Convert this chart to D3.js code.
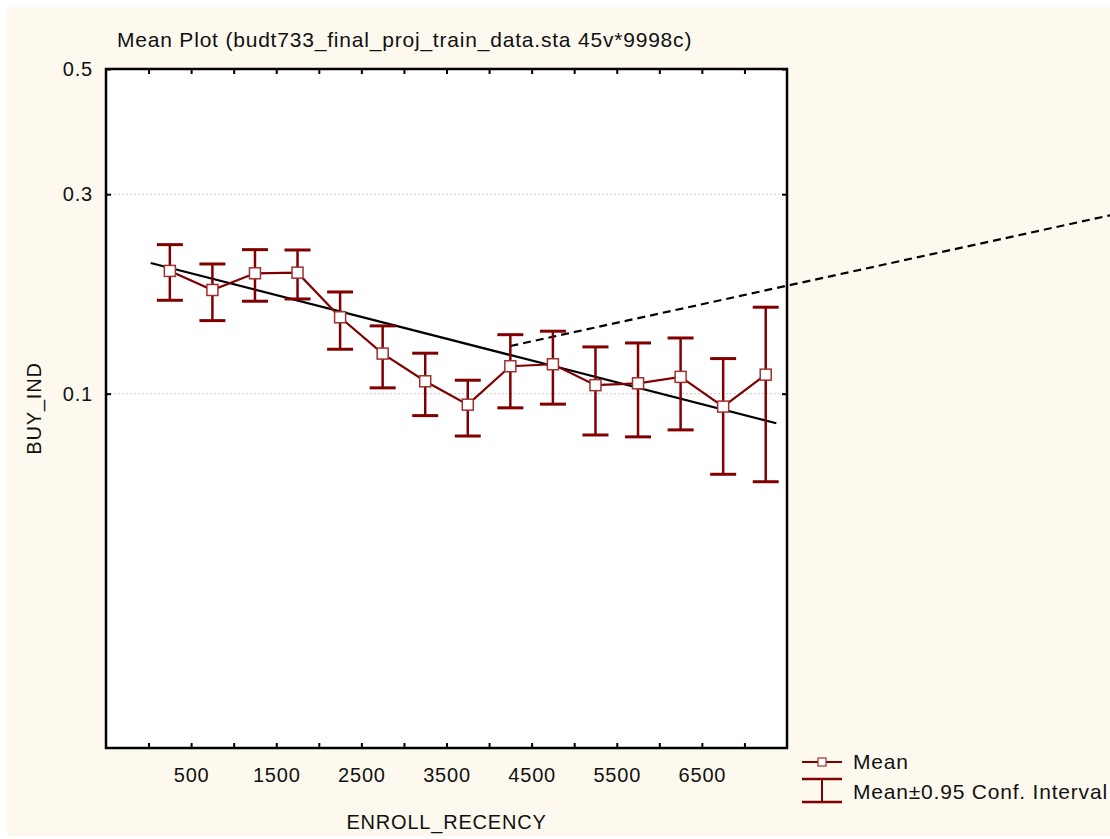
<!DOCTYPE html>
<html>
<head>
<meta charset="utf-8">
<script src="https://cdn.jsdelivr.net/npm/d3@7"></script>
<style>
  html, body { margin: 0; padding: 0; background: #fff; }
  svg { display: block; font-family: "Liberation Sans", Arial, sans-serif; }
  text { fill: #111; letter-spacing: 0.8px; }
</style>
</head>
<body>
<svg width="1110" height="839"></svg>
<script>
// ENROLL_RECENCY group midpoints and BUY_IND means with 0.95 CI
var groups = [250, 750, 1250, 1750, 2250, 2750, 3250, 3750, 4250, 4750, 5250, 5750, 6250, 6750, 7250];
var means  = [0.2032, 0.1831, 0.2006, 0.2013, 0.1571, 0.1272, 0.1078, 0.0935, 0.1180, 0.1194, 0.1053, 0.1065, 0.1107, 0.0924, 0.1122];
var ciHigh = [0.2335, 0.2109, 0.2275, 0.2271, 0.1811, 0.1495, 0.1275, 0.1085, 0.1421, 0.1450, 0.1323, 0.1354, 0.1394, 0.1235, 0.1663];
var ciLow  = [0.1729, 0.1541, 0.1720, 0.1742, 0.1305, 0.1036, 0.0874, 0.0770, 0.0917, 0.0938, 0.0775, 0.0766, 0.0800, 0.0605, 0.0577];

// fitted line and its dashed continuation
var fitX = [25, 7375];
var fitY = [0.212, 0.0834];
var dashX = [4250, 11300];
var dashY = [0.133, 0.271];

var xTicks = d3.range(0, 7001, 500);
var xLabels = [500, 1500, 2500, 3500, 4500, 5500, 6500];
var yTicks = [0.1, 0.3, 0.5];

var title = "Mean Plot (budt733_final_proj_train_data.sta 45v*9998c)";
var xTitle = "ENROLL_RECENCY";
var yTitle = "BUY_IND";
var legendLabels = ["Mean", "Mean\u00b10.95 Conf. Interval"];

var red = "#800000";

var svg = d3.select("svg"),
    width = +svg.attr("width"),
    height = +svg.attr("height");

var plot = {left: 106, right: 787, top: 69, bottom: 748};

function logit(p) { return Math.log(p / (1 - p)); }
function unlogit(v) { return 1 / (1 + Math.exp(-v)); }

var x = d3.scaleLinear().domain([-500, 7500]).range([plot.left, plot.right]);
var yl = d3.scaleLinear().domain([logit(0.01), logit(0.5)]).range([plot.bottom, plot.top]);
var y = function (p) { return yl(logit(p)); };

// background panel
svg.append("rect").attr("x", 7).attr("y", 7)
    .attr("width", width - 7).attr("height", 836 - 7)
    .attr("fill", "#fdf9ef");
svg.append("rect").attr("x", plot.left).attr("y", plot.top)
    .attr("width", plot.right - plot.left).attr("height", plot.bottom - plot.top)
    .attr("fill", "#fff");

// grid
svg.append("g").selectAll("line")
    .data([0.1, 0.3])
    .enter().append("line")
    .attr("x1", plot.left).attr("x2", plot.right)
    .attr("y1", function (d) { return y(d); })
    .attr("y2", function (d) { return y(d); })
    .attr("stroke", "#c8c8c8")
    .attr("stroke-dasharray", "2,2");

// axes (ticks pointing inward)
var yTickVals = yTicks.map(logit);

svg.append("g")
    .attr("transform", "translate(0," + plot.bottom + ")")
    .call(d3.axisBottom(x).tickValues(xTicks).tickSizeInner(-5).tickSizeOuter(0).tickPadding(20)
        .tickFormat(function (d) { return xLabels.indexOf(d) >= 0 ? d : ""; }))
    .call(styleAxis);

svg.append("g")
    .attr("transform", "translate(0," + plot.top + ")")
    .call(d3.axisTop(x).tickValues(xTicks).tickSizeInner(-5).tickSizeOuter(0).tickFormat(""))
    .call(styleAxis);

svg.append("g")
    .attr("transform", "translate(" + plot.left + ",0)")
    .call(d3.axisLeft(yl).tickValues(yTickVals).tickSizeInner(-5).tickSizeOuter(0).tickPadding(13)
        .tickFormat(function (v) { return d3.format(".1f")(unlogit(v)); }))
    .call(styleAxis);

svg.append("g")
    .attr("transform", "translate(" + plot.right + ",0)")
    .call(d3.axisRight(yl).tickValues(yTickVals).tickSizeInner(-5).tickSizeOuter(0).tickFormat(""))
    .call(styleAxis);

function styleAxis(g) {
    g.select(".domain").remove();
    g.selectAll(".tick line").attr("stroke", "#000").attr("stroke-width", 2);
    g.selectAll(".tick text")
        .attr("font-size", "20px")
        .attr("font-family", "Liberation Sans, Arial, sans-serif")
        .attr("fill", "#111");
}

// frame
svg.append("rect").attr("x", plot.left).attr("y", plot.top)
    .attr("width", plot.right - plot.left).attr("height", plot.bottom - plot.top)
    .attr("fill", "none").attr("stroke", "#000").attr("stroke-width", 2.5);

// titles
svg.append("text").attr("x", 117).attr("y", 47)
    .attr("font-size", "21px").text(title);
svg.append("text").attr("x", (plot.left + plot.right) / 2).attr("y", 829)
    .attr("text-anchor", "middle").attr("font-size", "20px").text(xTitle);
svg.append("text")
    .attr("transform", "translate(41," + (plot.top + plot.bottom) / 2 + ") rotate(-90)")
    .attr("text-anchor", "middle").attr("font-size", "20px").text(yTitle);

// fitted line
svg.append("line")
    .attr("x1", x(fitX[0])).attr("y1", y(fitY[0]))
    .attr("x2", x(fitX[1])).attr("y2", y(fitY[1]))
    .attr("stroke", "#000").attr("stroke-width", 2.2);

svg.append("line")
    .attr("x1", x(dashX[0])).attr("y1", y(dashY[0]))
    .attr("x2", x(dashX[1])).attr("y2", y(dashY[1]))
    .attr("stroke", "#000").attr("stroke-width", 2.2)
    .attr("stroke-dasharray", "8,5");

var data = groups.map(function (g, i) {
    return {x: g, mean: means[i], hi: ciHigh[i], lo: ciLow[i]};
});

// error bars
var bars = svg.append("g").selectAll("g")
    .data(data)
    .enter().append("g")
    .attr("stroke", red);

bars.append("line")
    .attr("x1", function (d) { return x(d.x); })
    .attr("x2", function (d) { return x(d.x); })
    .attr("y1", function (d) { return y(d.hi); })
    .attr("y2", function (d) { return y(d.lo); })
    .attr("stroke-width", 2.5);

bars.selectAll(".cap")
    .data(function (d) { return [{x: d.x, v: d.hi}, {x: d.x, v: d.lo}]; })
    .enter().append("line")
    .attr("class", "cap")
    .attr("x1", function (d) { return x(d.x) - 13; })
    .attr("x2", function (d) { return x(d.x) + 13; })
    .attr("y1", function (d) { return y(d.v); })
    .attr("y2", function (d) { return y(d.v); })
    .attr("stroke-width", 3);

// mean line and markers
var meanLine = d3.line()
    .x(function (d) { return x(d.x); })
    .y(function (d) { return y(d.mean); });

svg.append("path")
    .datum(data)
    .attr("d", meanLine)
    .attr("fill", "none")
    .attr("stroke", red)
    .attr("stroke-width", 2.2);

svg.append("g").selectAll("rect")
    .data(data)
    .enter().append("rect")
    .attr("x", function (d) { return x(d.x) - 5.5; })
    .attr("y", function (d) { return y(d.mean) - 5.5; })
    .attr("width", 11).attr("height", 11)
    .attr("fill", "#fff")
    .attr("stroke", "#a03030")
    .attr("stroke-width", 1.5);

// legend
var lg = svg.append("g").attr("transform", "translate(802,0)");
lg.append("line").attr("x1", 0).attr("x2", 40).attr("y1", 762).attr("y2", 762)
    .attr("stroke", red).attr("stroke-width", 2);
lg.append("rect").attr("x", 16).attr("y", 758).attr("width", 8).attr("height", 8)
    .attr("fill", "#fff").attr("stroke", "#a03030").attr("stroke-width", 1.2);
lg.append("text").attr("x", 51).attr("y", 769).attr("font-size", "21px").text(legendLabels[0]);

lg.append("line").attr("x1", 0).attr("x2", 40).attr("y1", 779).attr("y2", 779)
    .attr("stroke", red).attr("stroke-width", 2.5);
lg.append("line").attr("x1", 0).attr("x2", 40).attr("y1", 802).attr("y2", 802)
    .attr("stroke", red).attr("stroke-width", 2.5);
lg.append("line").attr("x1", 20).attr("x2", 20).attr("y1", 779).attr("y2", 802)
    .attr("stroke", red).attr("stroke-width", 2);
lg.append("text").attr("x", 51).attr("y", 799).attr("font-size", "21px").text(legendLabels[1]);
</script>
</body>
</html>
